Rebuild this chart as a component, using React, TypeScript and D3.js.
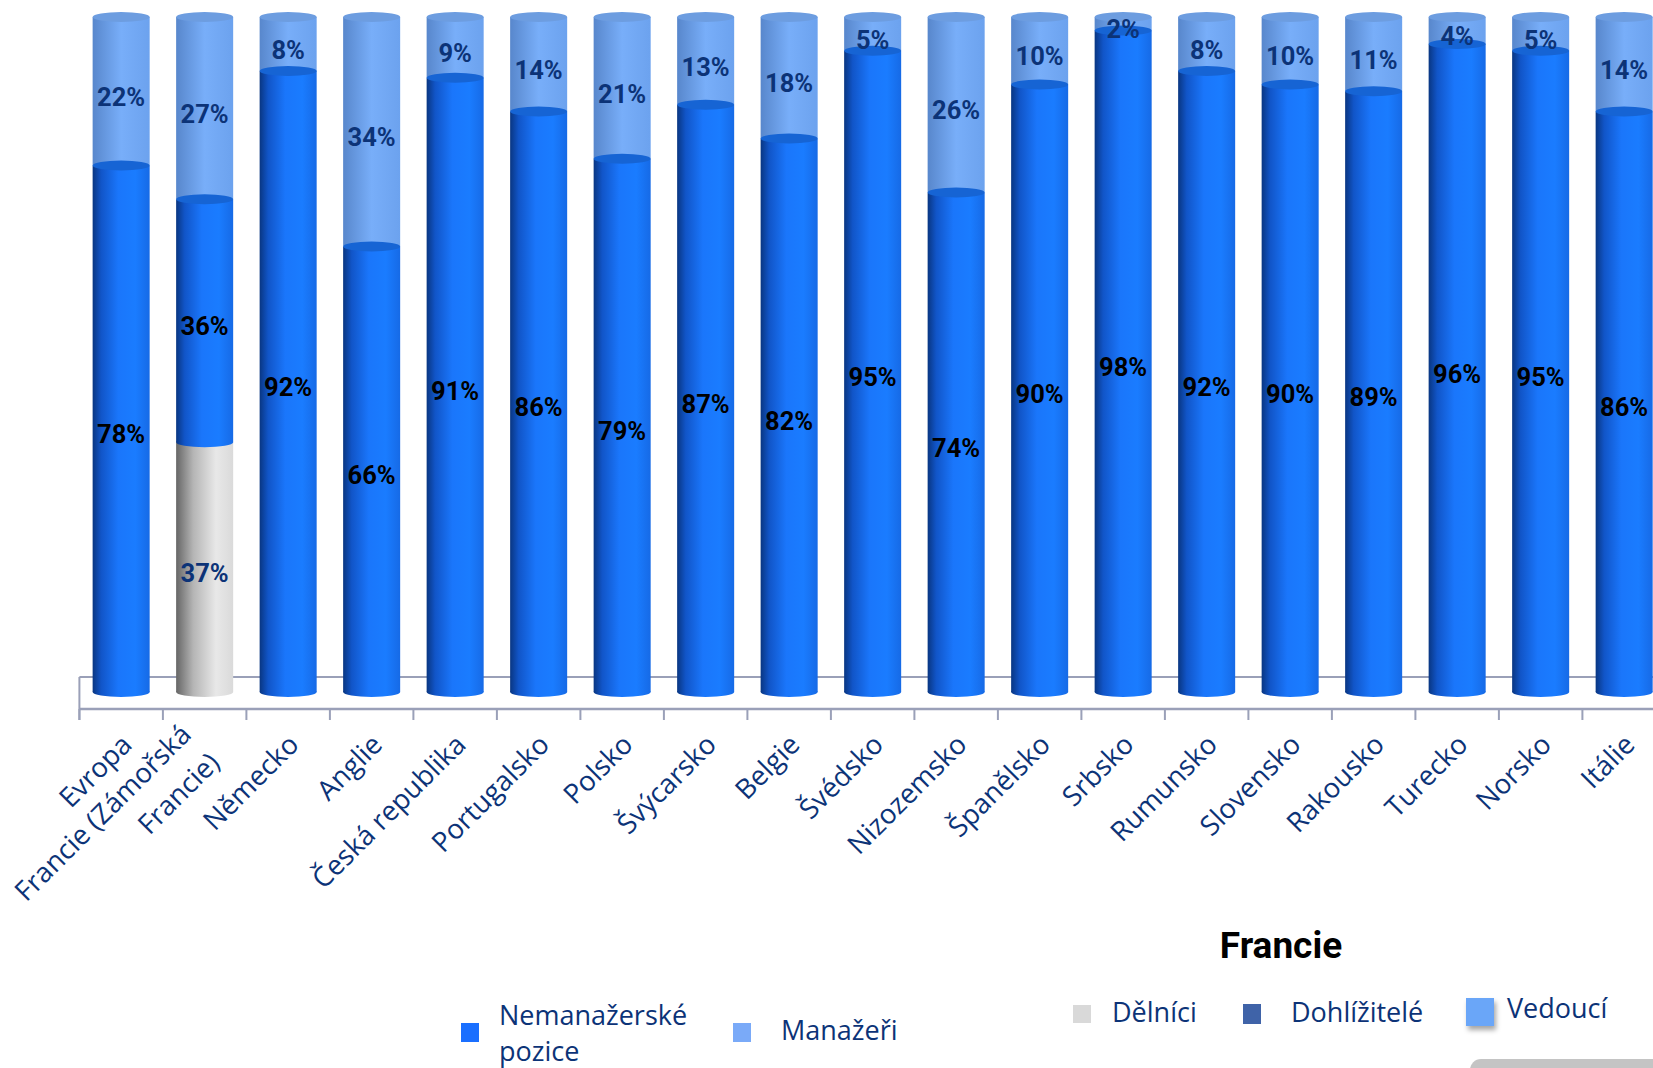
import React from "react";
import * as d3 from "d3";

const categories = [
  "Evropa",
  "Francie (Zámořská Francie)",
  "Německo",
  "Anglie",
  "Česká republika",
  "Portugalsko",
  "Polsko",
  "Švýcarsko",
  "Belgie",
  "Švédsko",
  "Nizozemsko",
  "Španělsko",
  "Srbsko",
  "Rumunsko",
  "Slovensko",
  "Rakousko",
  "Turecko",
  "Norsko",
  "Itálie",
];
const labelLines: Record<string, string[]> = {
  "Francie (Zámořská Francie)": ["Francie (Zámořská", "Francie)"],
};
const delnici = [0, 37, 0, 0, 0, 0, 0, 0, 0, 0, 0, 0, 0, 0, 0, 0, 0, 0, 0];
const nemanazerske = [78, 36, 92, 66, 91, 86, 79, 87, 82, 95, 74, 90, 98, 92, 90, 89, 96, 95, 86];
const manazeri = [22, 27, 8, 34, 9, 14, 21, 13, 18, 5, 26, 10, 2, 8, 10, 11, 4, 5, 14];

const W = 1653;
const H = 1068;
const x0 = 79.4;
const step = 83.5;
const yBase = 692;
const yTop = 17;
const ry = 5;

const x = d3
  .scaleBand<string>()
  .domain(categories)
  .range([x0, x0 + step * categories.length])
  .paddingInner(0.317)
  .paddingOuter(0.1585);
const y = d3.scaleLinear().domain([0, 100]).range([yBase, yTop]);

const navy = "#0c3377";
const axisColor = "#9aa0b8";

type Seg = { key: string; v0: number; v1: number; grad: string; cap: string; label: string; opaque: boolean };

export default function App() {
  const bw = x.bandwidth();
  const rx = bw / 2;
  const ticks = d3.range(categories.length + 1).map((i) => x0 + i * x.step());

  return (
    <svg
      width={W}
      height={H}
      viewBox={`0 0 ${W} ${H}`}
      style={{ position: "absolute", left: 0, top: 0, background: "#fff" }}
    >
      <defs>
        <linearGradient id="gDark" x1="0" x2="1" y1="0" y2="0">
          <stop offset="0" stopColor="#093682" />
          <stop offset="0.15" stopColor="#1155c8" />
          <stop offset="0.45" stopColor="#1a76fb" />
          <stop offset="0.75" stopColor="#1a7cff" />
          <stop offset="1" stopColor="#166ae6" />
        </linearGradient>
        <linearGradient id="gLight" x1="0" x2="1" y1="0" y2="0">
          <stop offset="0" stopColor="#5887cc" />
          <stop offset="0.5" stopColor="#78aef9" />
          <stop offset="1" stopColor="#6ca2ee" />
        </linearGradient>
        <linearGradient id="gGray" x1="0" x2="1" y1="0" y2="0">
          <stop offset="0" stopColor="#666666" />
          <stop offset="0.3" stopColor="#b5b5b5" />
          <stop offset="0.7" stopColor="#e8e8e8" />
          <stop offset="1" stopColor="#dadada" />
        </linearGradient>
        <filter id="shadow" x="-30%" y="-30%" width="180%" height="180%">
          <feDropShadow dx="2" dy="4" stdDeviation="2.5" floodColor="#000" floodOpacity="0.35" />
        </filter>
      </defs>

      {/* floor / axis */}
      <line x1={x0} x2={W} y1={677} y2={677} stroke={axisColor} strokeWidth={2} />
      <line x1={x0} x2={W} y1={709} y2={709} stroke={axisColor} strokeWidth={2.5} />
      <line x1={x0} x2={x0} y1={677} y2={720} stroke={axisColor} strokeWidth={2} />
      {ticks.map((t, i) => (
        <line key={i} x1={t} x2={t} y1={709} y2={720} stroke={axisColor} strokeWidth={2} />
      ))}

      {/* bars */}
      {categories.map((c, i) => {
        const bx = x(c)!;
        const cx = bx + rx;
        const segs: Seg[] = [];
        let acc = 0;
        if (delnici[i] > 0) {
          segs.push({ key: "d", v0: acc, v1: acc + delnici[i], grad: "url(#gGray)", cap: "#cfcfcf", label: navy, opaque: true });
          acc += delnici[i];
        }
        segs.push({ key: "n", v0: acc, v1: acc + nemanazerske[i], grad: "url(#gDark)", cap: "#1664d4", label: "#000", opaque: true });
        acc += nemanazerske[i];
        segs.push({ key: "m", v0: acc, v1: acc + manazeri[i], grad: "url(#gLight)", cap: "#6d9de0", label: navy, opaque: false });
        return (
          <g key={c}>
            {segs.map((s) => (
              <g key={s.key}>
                <rect x={bx} width={bw} y={y(s.v1)} height={y(s.v0) - y(s.v1)} fill={s.grad} />
                {s.opaque && <ellipse cx={cx} cy={y(s.v0)} rx={rx} ry={ry} fill={s.grad} />}
              </g>
            ))}
            {segs.map((s) =>
              s.key === "d" ? null : (
                <ellipse key={s.key + "t"} cx={cx} cy={y(s.v1)} rx={rx} ry={ry} fill={s.cap} />
              )
            )}
            {segs.map((s) => (
              <text
                key={s.key + "l"}
                x={cx}
                y={(y(s.v0) + y(s.v1)) / 2 + 8}
                textAnchor="middle"
                dominantBaseline="middle"
                fontFamily="Roboto, sans-serif"
                fontWeight={700}
                fontSize={25.5}
                fill={s.label}
              >
                {Math.round(s.v1 - s.v0)}%
              </text>
            ))}
          </g>
        );
      })}

      {/* category labels */}
      {categories.map((c) => {
        const cx = x(c)! + rx;
        const lines = labelLines[c] || [c];
        const multi = lines.length > 1;
        const ax = cx + (multi ? -4 : 6);
        const ay = multi ? 744 : 740;
        return (
          <text
            key={c + "x"}
            transform={`translate(${ax},${ay}) rotate(-45)`}
            textAnchor="end"
            fontFamily="'Open Sans', sans-serif"
            fontSize={27.5}
            fill={navy}
          >
            {lines.map((ln, j) => (
              <tspan key={j} x={0} y={(j - (lines.length - 1) / 2) * 40 + 9}>
                {ln}
              </tspan>
            ))}
          </text>
        );
      })}

      {/* legend left */}
      <rect x={461} y={1023} width={18} height={19} fill="#1a6fff" />
      <text x={499} y={1025} fontFamily="'Open Sans', sans-serif" fontSize={27} fill={navy}>
        <tspan x={499}>Nemanažerské</tspan>
        <tspan x={499} dy={36}>pozice</tspan>
      </text>
      <rect x={733} y={1023} width={18} height={19} fill="#7aaaf8" />
      <text x={781} y={1040} fontFamily="'Open Sans', sans-serif" fontSize={27} fill={navy}>
        Manažeři
      </text>

      {/* Francie legend */}
      <text x={1281} y={958} textAnchor="middle" fontFamily="Roboto, sans-serif" fontWeight={700} fontSize={37} fill="#000">
        Francie
      </text>
      <rect x={1073} y={1005} width={18} height={18} fill="#d9d9d9" />
      <text x={1112} y={1022} fontFamily="'Open Sans', sans-serif" fontSize={27} fill={navy}>
        Dělníci
      </text>
      <rect x={1243} y={1004} width={18} height={20} fill="#3f63a8" />
      <text x={1291} y={1022} fontFamily="'Open Sans', sans-serif" fontSize={27} fill={navy}>
        Dohlížitelé
      </text>
      <rect x={1466} y={998} width={28} height={28} fill="#6aa6f8" filter="url(#shadow)" />
      <text x={1507} y={1018} fontFamily="'Open Sans', sans-serif" fontSize={27} fill={navy}>
        Vedoucí
      </text>
      <rect x={1470} y={1059} width={220} height={22} rx={11} fill="#c4c4c4" />
    </svg>
  );
}
